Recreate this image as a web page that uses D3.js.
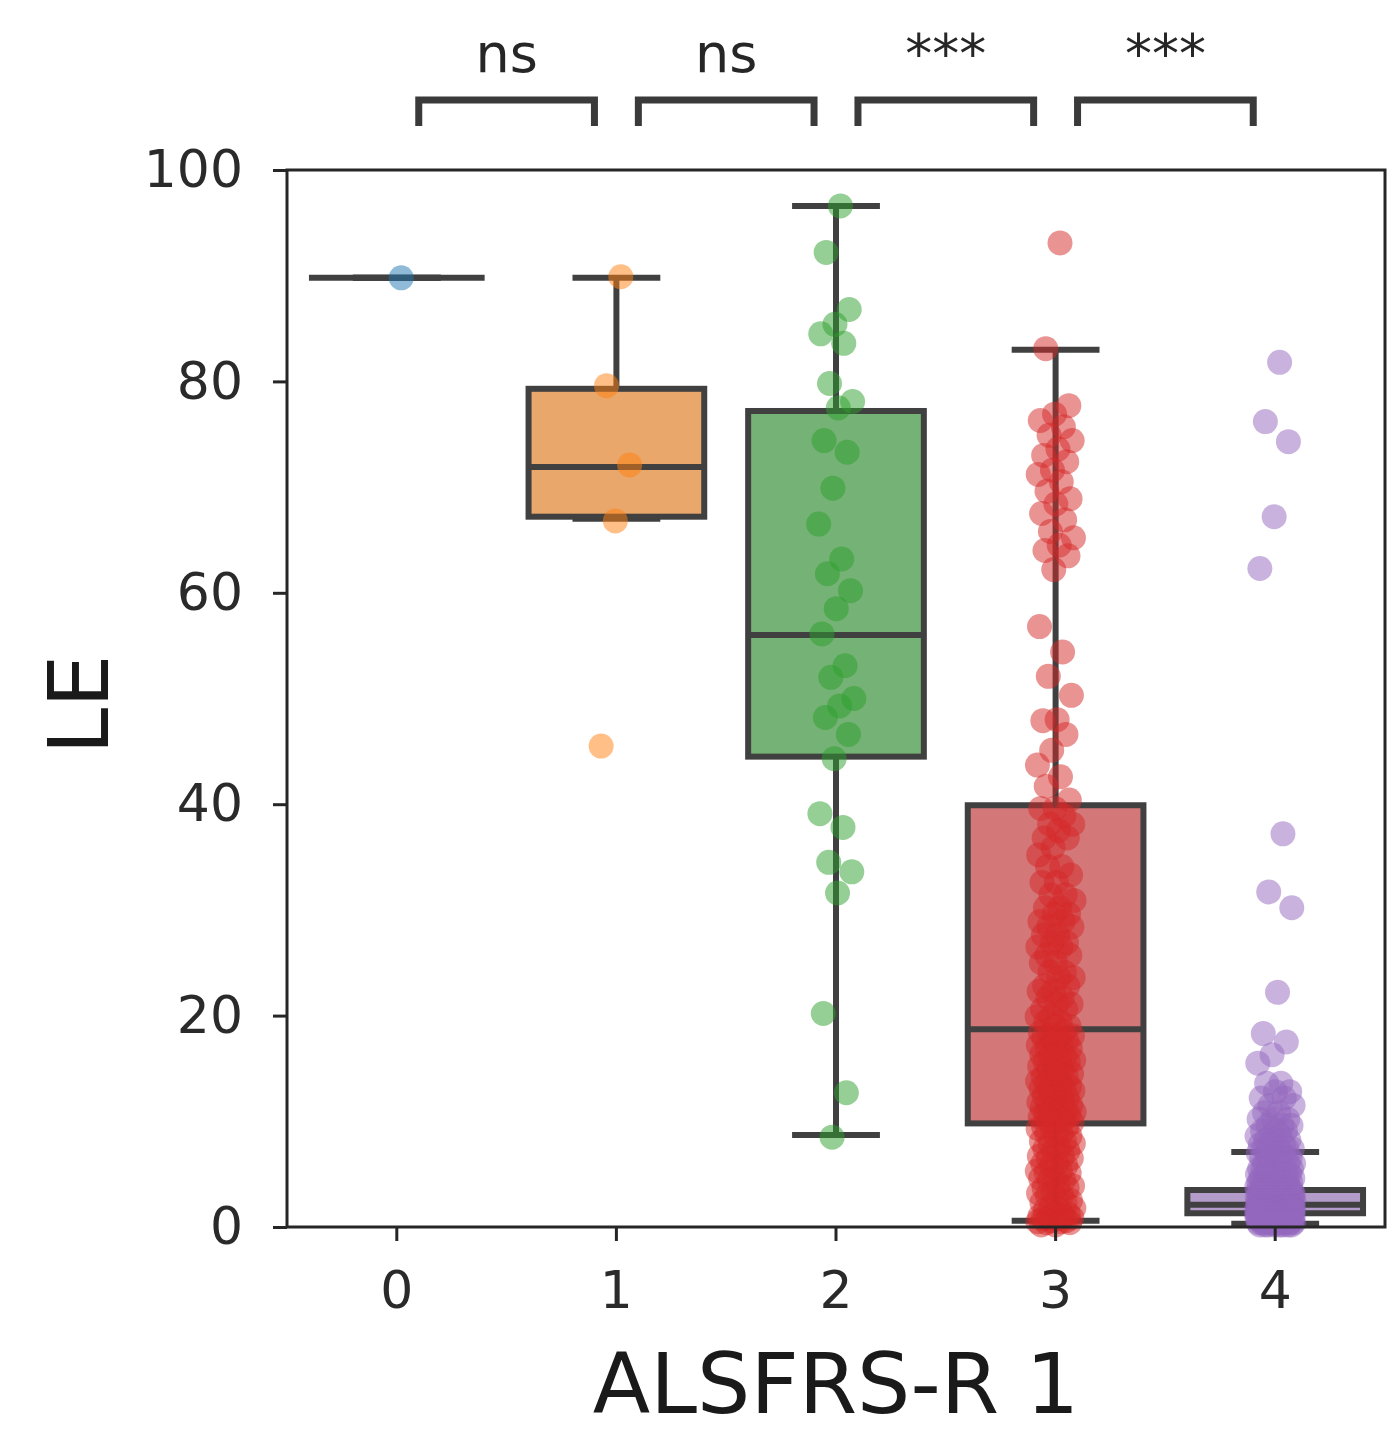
<!DOCTYPE html>
<html>
<head>
<meta charset="utf-8">
<script src="https://cdn.jsdelivr.net/npm/d3@7"></script>
<style>
body { margin: 0; background: #fff; }
text { font-family: "DejaVu Sans", sans-serif; }
</style>
</head>
<body>
<div id="chart"></div>
<script>
// categories and colours
var categories = ["0", "1", "2", "3", "4"];
var pointColors = ["#1f77b4", "#ff7f0e", "#2ca02c", "#d62728", "#9467bd"];
var boxColors = ["#3274a1", "#e1812c", "#3a923a", "#c03d3e", "#9372b2"];

// box statistics
var whiskerLow = [89.8, 67.0, 8.7, 0.6, 0.3];
var q1 = [89.8, 67.2, 44.5, 9.8, 1.3];
var median = [89.8, 71.9, 56.0, 18.7, 2.1];
var q3 = [89.8, 79.3, 77.2, 39.9, 3.5];
var whiskerHigh = [89.8, 89.8, 96.6, 83.0, 7.1];

// significance brackets: [from, to, label]
var brackets = [["0", "1", "ns"], ["1", "2", "ns"], ["2", "3", "***"], ["3", "4", "***"]];
var yTicks = [0, 20, 40, 60, 80, 100];

// strip points per category: [value, count]
var points0 = [[89.8, 1]];
var points1 = [[89.9, 1], [79.6, 1], [72.1, 1], [66.8, 1], [45.5, 1]];
var points2 = [[96.6, 1], [92.2, 1], [86.8, 1], [85.4, 1], [84.5, 1], [83.6, 1], [79.8, 1], [78.1, 1],
  [77.5, 1], [74.4, 1], [73.3, 1], [69.9, 1], [66.5, 1], [63.2, 1], [61.8, 1], [60.2, 1], [58.5, 1],
  [56.1, 1], [53.1, 1], [52.0, 1], [50.0, 1], [49.3, 1], [48.2, 1], [46.6, 1], [44.3, 1], [39.1, 1],
  [37.8, 1], [34.5, 1], [33.6, 1], [31.6, 1], [20.2, 1], [12.7, 1], [8.5, 1]];
var points3 = [[93.1, 1], [83.1, 1], [77.7, 1], [76.9, 1], [76.3, 1], [75.7, 1], [74.9, 1], [74.4, 1],
  [73.6, 1], [73.0, 1], [72.4, 1], [71.6, 1], [71.2, 1], [70.5, 1], [69.6, 1], [68.9, 1], [68.4, 1],
  [67.5, 1], [66.9, 1], [65.8, 1], [65.2, 1], [64.5, 1], [64.0, 1], [63.5, 1], [62.2, 1], [56.8, 1],
  [54.4, 1], [52.1, 1], [50.3, 1], [48.0, 1], [47.9, 1], [46.6, 1], [45.1, 1], [43.7, 1], [42.6, 1],
  [41.7, 1], [40.4, 1],
  [39.6, 2], [38.9, 1], [38.1, 2], [37.5, 1], [36.8, 2], [35.9, 1], [35.2, 1], [34.1, 2], [33.3, 1],
  [32.6, 2], [31.4, 2], [30.9, 1], [30.2, 2],
  [29.6, 2], [28.9, 2], [28.4, 2], [27.6, 2], [26.9, 2], [26.5, 2], [25.7, 2], [25.0, 2], [24.1, 2],
  [23.6, 2], [22.8, 2], [22.3, 2], [21.7, 2], [21.1, 2], [20.6, 2], [19.9, 2], [19.4, 2], [19.0, 2],
  [18.4, 2], [18.1, 2], [17.9, 2], [17.6, 2], [17.2, 2], [16.9, 2], [16.3, 2], [16.1, 2], [15.8, 2],
  [15.6, 2], [15.2, 2], [14.9, 2], [14.5, 2], [14.2, 2], [13.8, 2], [13.5, 2], [13.3, 2], [13.1, 2],
  [12.9, 2], [12.4, 2], [12.2, 2], [11.8, 2], [11.5, 2], [11.3, 2], [11.0, 2], [10.9, 2], [10.6, 2],
  [10.4, 2], [10.1, 2], [9.9, 2],
  [9.5, 2], [9.3, 2], [8.8, 2], [8.6, 2], [8.1, 2], [7.9, 2], [7.4, 2], [7.2, 2], [6.7, 2], [6.5, 2],
  [6.0, 2], [5.8, 2], [5.3, 2], [5.1, 2], [4.6, 2], [4.4, 2], [3.9, 2], [3.7, 2], [3.2, 2], [3.0, 2],
  [2.5, 2], [2.3, 2], [1.8, 2], [1.6, 2], [1.2, 2], [1.0, 2], [0.9, 2], [0.8, 2], [0.6, 2], [0.5, 2],
  [0.4, 2], [0.2, 2]];
var points4 = [[81.8, 1], [76.2, 1], [74.3, 1], [67.2, 1], [62.3, 1], [37.2, 1], [31.7, 1], [30.2, 1],
  [22.2, 1], [18.3, 1], [17.5, 1], [16.3, 1], [15.5, 1], [13.6, 2], [12.8, 2], [12.2, 2], [11.5, 2],
  [10.8, 2], [10.2, 3], [9.6, 3], [9.1, 3], [8.6, 3], [8.2, 3], [7.8, 3], [7.4, 4],
  [7.0, 4], [6.5, 5], [6.0, 5], [5.5, 6], [5.0, 6], [4.6, 7], [4.2, 7], [3.8, 8],
  [3.4, 12], [3.1, 12], [2.8, 14], [2.5, 15], [2.2, 15],
  [1.95, 16], [1.8, 17], [1.6, 17], [1.4, 16],
  [1.2, 14], [1.0, 14], [0.8, 12], [0.6, 11], [0.4, 10], [0.2, 8]];
var pointSets = [points0, points1, points2, points3, points4];

var svgWidth = 1399;
var svgHeight = 1440;
var plot = {left: 287, right: 1385, top: 170, bottom: 1227};

var svg = d3.select("#chart")
  .append("svg")
  .attr("width", svgWidth)
  .attr("height", svgHeight);

var x = d3.scaleBand()
  .domain(categories)
  .range([plot.left, plot.right])
  .padding(0);

var y = d3.scaleLinear()
  .domain([0, 100])
  .range([plot.bottom, plot.top]);

var bw = x.bandwidth();
var boxW = bw * 0.8;
var capW = boxW * 0.5;
var lineColor = "#404040";

function cx(c) { return x(c) + bw / 2; }

// boxes
var boxes = svg.append("g");
categories.forEach(function(c, i) {
  var g = boxes.append("g");
  g.append("line")
    .attr("x1", cx(c)).attr("x2", cx(c))
    .attr("y1", y(q3[i])).attr("y2", y(whiskerHigh[i]))
    .attr("stroke", lineColor).attr("stroke-width", 6);
  g.append("line")
    .attr("x1", cx(c)).attr("x2", cx(c))
    .attr("y1", y(q1[i])).attr("y2", y(whiskerLow[i]))
    .attr("stroke", lineColor).attr("stroke-width", 6);
  [whiskerHigh[i], whiskerLow[i]].forEach(function(v) {
    g.append("line")
      .attr("x1", cx(c) - capW / 2).attr("x2", cx(c) + capW / 2)
      .attr("y1", y(v)).attr("y2", y(v))
      .attr("stroke", lineColor).attr("stroke-width", 6);
  });
  g.append("rect")
    .attr("x", cx(c) - boxW / 2)
    .attr("width", boxW)
    .attr("y", y(q3[i]))
    .attr("height", y(q1[i]) - y(q3[i]))
    .attr("fill", boxColors[i])
    .attr("fill-opacity", 0.7)
    .attr("stroke", lineColor)
    .attr("stroke-width", 6);
  g.append("line")
    .attr("x1", cx(c) - boxW / 2).attr("x2", cx(c) + boxW / 2)
    .attr("y1", y(median[i])).attr("y2", y(median[i]))
    .attr("stroke", lineColor).attr("stroke-width", 6);
});

// strip points, spread sideways with a fixed low-discrepancy jitter
var strip = svg.append("g");
categories.forEach(function(c, i) {
  var vals = [];
  pointSets[i].forEach(function(p) {
    for (var k = 0; k < p[1]; k++) vals.push(p[0]);
  });
  strip.selectAll(null)
    .data(vals)
    .enter().append("circle")
    .attr("r", 12.5)
    .attr("cx", function(d, j) {
      var u = ((j + 1) * 0.6180339887) % 1;
      return cx(c) + (u - 0.5) * 2 * 0.085 * bw;
    })
    .attr("cy", function(d) { return y(d); })
    .attr("fill", pointColors[i])
    .attr("fill-opacity", 0.5);
});

// frame
svg.append("rect")
  .attr("x", plot.left).attr("y", plot.top)
  .attr("width", plot.right - plot.left)
  .attr("height", plot.bottom - plot.top)
  .attr("fill", "none")
  .attr("stroke", "#262626")
  .attr("stroke-width", 3);

// axes
var yAxis = svg.append("g")
  .attr("transform", "translate(" + plot.left + ",0)")
  .call(d3.axisLeft(y).tickValues(yTicks).tickSize(14).tickPadding(30));
var xAxis = svg.append("g")
  .attr("transform", "translate(0," + plot.bottom + ")")
  .call(d3.axisBottom(x).tickSize(14).tickPadding(30));
[yAxis, xAxis].forEach(function(a) {
  a.select(".domain").remove();
  a.selectAll(".tick line").attr("stroke", "#262626").attr("stroke-width", 3);
  a.selectAll(".tick text")
    .attr("fill", "#2a2a2a")
    .style("font-family", "DejaVu Sans")
    .style("font-size", "52px");
});

// axis labels
svg.append("text")
  .attr("x", (plot.left + plot.right) / 2)
  .attr("y", 1413)
  .attr("text-anchor", "middle")
  .attr("fill", "#1a1a1a")
  .style("font-size", "84px")
  .text("ALSFRS-R 1");

svg.append("text")
  .attr("transform", "translate(108," + ((plot.top + plot.bottom) / 2 + 6) + ") rotate(-90)")
  .attr("text-anchor", "middle")
  .attr("fill", "#1a1a1a")
  .style("font-size", "84px")
  .text("LE");

// significance brackets
var ann = svg.append("g");
brackets.forEach(function(b) {
  var x1 = cx(b[0]) + 0.1 * bw;
  var x2 = cx(b[1]) - 0.1 * bw;
  ann.append("path")
    .attr("d", "M" + x1 + ",126V100H" + x2 + "V126")
    .attr("fill", "none")
    .attr("stroke", "#3a3a3a")
    .attr("stroke-width", 7);
  ann.append("text")
    .attr("x", (x1 + x2) / 2)
    .attr("y", 72)
    .attr("text-anchor", "middle")
    .attr("fill", "#262626")
    .style("font-size", "54px")
    .text(b[2]);
});
</script>
</body>
</html>
